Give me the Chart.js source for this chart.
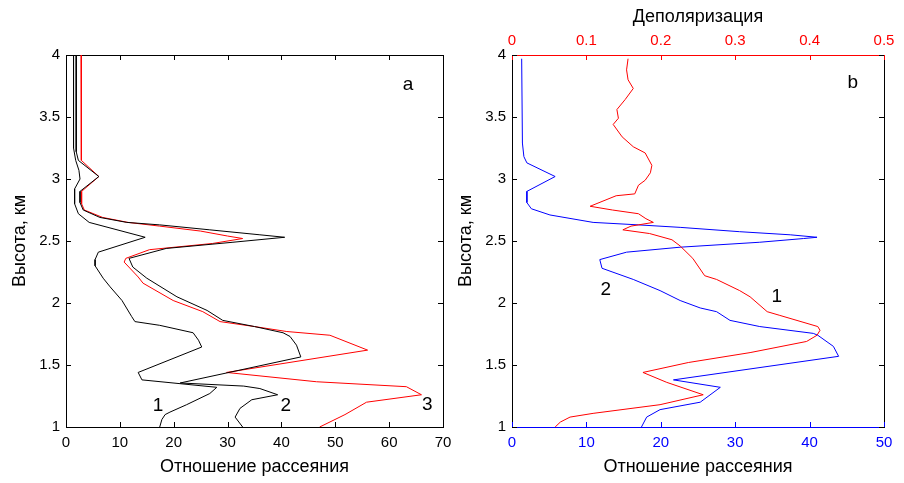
<!DOCTYPE html>
<html>
<head>
<meta charset="utf-8">
<script src="https://cdn.jsdelivr.net/npm/chart.js@4"></script>
<style>
html, body { margin: 0; padding: 0; background: #fff; }
#wrap { position: relative; width: 904px; height: 483px; }
canvas { position: absolute; top: 0; }
</style>
</head>
<body>
<div id="wrap">
  <canvas id="chartA" width="452" height="483" style="left:0"></canvas>
  <canvas id="chartB" width="452" height="483" style="left:452px"></canvas>
</div>
<script>
// ---- panel a: scattering ratio profiles (1, 2 black, 3 red)
const heightA1 = [4.0, 3.25, 3.15, 3.07, 3.0, 2.92, 2.8, 2.72, 2.65, 2.53, 2.41, 2.35, 2.3, 2.2, 2.13, 2.02, 1.89, 1.85, 1.82, 1.76, 1.7, 1.645, 1.44, 1.38, 1.32, 1.27, 1.18, 1.12, 1.1, 1.06, 1.0];
const ratioA1  = [1.4, 1.4, 1.8, 2.4, 2.6, 1.6, 1.6, 2.3, 4.3, 14.7, 6.0, 5.4, 5.4, 6.9, 8.2, 10.4, 12.2, 12.8, 17.4, 23.6, 24.6, 25.2, 13.4, 14.1, 28, 26.7, 22.4, 19.3, 18.4, 17.8, 17.4];

const heightA2 = [4.0, 3.22, 3.15, 3.02, 2.9, 2.81, 2.75, 2.69, 2.65, 2.63, 2.59, 2.55, 2.53, 2.49, 2.44, 2.36, 2.29, 2.2, 2.05, 1.94, 1.86, 1.81, 1.76, 1.73, 1.66, 1.565, 1.355, 1.33, 1.31, 1.26, 1.22, 1.15, 1.08, 1.0];
const ratioA2  = [1.9, 1.9, 2.3, 6.1, 2.6, 2.6, 3.2, 6.3, 11.3, 17.4, 26.7, 36, 40.6, 31, 18.6, 11.7, 12.4, 15, 20.6, 26.2, 29.1, 35, 40.3, 41.6, 42.8, 43.6, 21.2, 33, 36, 39.3, 34.5, 32.3, 31.4, 32.8];

const heightA3 = [4.0, 3.25, 3.15, 3.02, 2.9, 2.8, 2.75, 2.69, 2.65, 2.62, 2.58, 2.54, 2.52, 2.48, 2.43, 2.36, 2.33, 2.21, 2.16, 2.02, 1.93, 1.85, 1.81, 1.77, 1.74, 1.62, 1.44, 1.365, 1.325, 1.26, 1.2, 1.1, 1.0];
const ratioA3  = [2.8, 2.8, 2.9, 6.1, 2.9, 2.9, 3.4, 6.8, 11.5, 17.4, 25, 30, 32.8, 27.2, 15.5, 11.1, 10.8, 13.4, 14.3, 19.9, 25.4, 28.6, 35, 41, 49, 56, 29.8, 46.5, 63.2, 66, 55.8, 51.8, 47.1];

// ---- panel b: depolarization (1, red, top axis) and scattering ratio (2, blue)
const heightB1 = [3.97, 3.88, 3.8, 3.73, 3.64, 3.56, 3.49, 3.44, 3.34, 3.26, 3.21, 3.11, 3.05, 2.99, 2.95, 2.88, 2.865, 2.78, 2.75, 2.72, 2.68, 2.65, 2.62, 2.59, 2.56, 2.51, 2.46, 2.36, 2.22, 2.19, 2.1, 2.05, 1.93, 1.9, 1.81, 1.78, 1.74, 1.69, 1.6, 1.52, 1.44, 1.36, 1.26, 1.18, 1.11, 1.08, 1.04, 1.0];
const depolB1  = [0.156, 0.154, 0.156, 0.163, 0.152, 0.141, 0.143, 0.136, 0.148, 0.163, 0.179, 0.188, 0.186, 0.179, 0.17, 0.165, 0.14, 0.105, 0.135, 0.17, 0.18, 0.19, 0.16, 0.149, 0.185, 0.215, 0.226, 0.243, 0.259, 0.275, 0.306, 0.32, 0.343, 0.36, 0.411, 0.414, 0.41, 0.396, 0.32, 0.237, 0.176, 0.208, 0.257, 0.199, 0.109, 0.078, 0.065, 0.058];

const heightB2 = [3.97, 3.29, 3.18, 3.13, 3.02, 2.9, 2.81, 2.76, 2.71, 2.65, 2.63, 2.61, 2.575, 2.55, 2.53, 2.52, 2.49, 2.45, 2.41, 2.35, 2.28, 2.19, 2.1, 2.02, 1.96, 1.93, 1.86, 1.81, 1.755, 1.74, 1.65, 1.57, 1.38, 1.32, 1.2, 1.14, 1.08, 1.0];
const ratioB2  = [1.3, 1.4, 1.6, 2.0, 5.8, 2.0, 2.0, 2.6, 5.1, 10.9, 17, 22.6, 30.6, 37.4, 41, 39.2, 33.3, 22.6, 15.4, 11.8, 12.1, 16.3, 19.9, 22.6, 25.3, 27.5, 29.3, 33.3, 40.5, 41.1, 43.2, 43.9, 21.7, 28, 25.3, 19.9, 18.1, 17.4];

// ---- ticks
const heightTicks = [1, 1.5, 2, 2.5, 3, 3.5, 4];
const ratioTicksA = [0, 10, 20, 30, 40, 50, 60, 70];
const ratioTicksB = [0, 10, 20, 30, 40, 50];
const depolTicks  = [0, 0.1, 0.2, 0.3, 0.4, 0.5];

const FONT = "'Liberation Sans', Arial, sans-serif";
Chart.defaults.font.family = FONT;
Chart.defaults.font.size = 15;
Chart.defaults.color = '#000';

// MATLAB-like ticks pointing into the plot
const innerTicks = {
  id: 'innerTicks',
  afterDatasetsDraw(chart) {
    const {ctx, chartArea: a} = chart;
    ctx.save();
    ctx.lineWidth = 1;
    Object.values(chart.scales).forEach(s => {
      ctx.strokeStyle = s.options.border.color;
      s.ticks.forEach(t => {
        const p = Math.round(s.getPixelForValue(t.value)) + 0.5;
        ctx.beginPath();
        if (s.position === 'bottom') { ctx.moveTo(p, a.bottom); ctx.lineTo(p, a.bottom - 5); }
        if (s.position === 'top')    { ctx.moveTo(p, a.top);    ctx.lineTo(p, a.top + 5); }
        if (s.position === 'left')   { ctx.moveTo(a.left, p);   ctx.lineTo(a.left + 5, p); }
        if (s.position === 'right')  { ctx.moveTo(a.right, p);  ctx.lineTo(a.right - 5, p); }
        ctx.stroke();
      });
    });
    ctx.restore();
  }
};

// text notes placed in data coordinates
const notes = {
  id: 'notes',
  afterDatasetsDraw(chart, args, opts) {
    const {ctx} = chart;
    ctx.save();
    ctx.font = '19px ' + FONT;
    ctx.fillStyle = '#000';
    ctx.textAlign = 'center';
    ctx.textBaseline = 'middle';
    opts.items.forEach(n => {
      ctx.fillText(n.text, chart.scales.x.getPixelForValue(n.x), chart.scales.y.getPixelForValue(n.y));
    });
    ctx.restore();
  }
};

function profile(h, v, color, xAxisID) {
  return {
    data: h.map((y, i) => ({x: v[i], y: y})),
    xAxisID: xAxisID || 'x',
    borderColor: color,
    borderWidth: 1,
    pointRadius: 0,
    showLine: true,
    tension: 0
  };
}

function setTicks(list) {
  return s => { s.ticks = list.map(v => ({value: v})); };
}

function axis(opts) {
  const o = {
    type: 'linear',
    position: opts.position,
    min: opts.min,
    max: opts.max,
    grid: {display: false, drawTicks: false, tickLength: 0},
    border: {display: true, color: opts.color || '#000', width: 1},
    ticks: {
      display: !!opts.showLabels,
      color: opts.color || '#000',
      padding: opts.pad || 5,
      maxRotation: 0,
      callback: v => String(v)
    },
    afterBuildTicks: setTicks(opts.ticks),
    afterFit: s => {
      if (s.isHorizontal()) s.height = opts.size; else s.width = opts.size;
      s.paddingLeft = s.paddingRight = s.paddingTop = s.paddingBottom = 0;
    }
  };
  if (opts.title) {
    o.title = {display: true, text: opts.title, color: '#000', font: {size: 18}, padding: opts.titlePad};
  }
  return o;
}

const baseOptions = {
  responsive: false,
  animation: false,
  events: [],
  layout: {padding: 0},
  plugins: {legend: {display: false}, tooltip: {enabled: false}}
};

new Chart(document.getElementById('chartA'), {
  type: 'scatter',
  data: {
    datasets: [
      profile(heightA1, ratioA1, '#000'),
      profile(heightA2, ratioA2, '#000'),
      profile(heightA3, ratioA3, '#ff0000')
    ]
  },
  options: Object.assign({}, baseOptions, {
    scales: {
      x: axis({position: 'bottom', min: 0, max: 70, ticks: ratioTicksA, showLabels: true, size: 56, pad: 7,
               title: 'Отношение рассеяния', titlePad: {bottom: 5}}),
      xTop: axis({position: 'top', min: 0, max: 70, ticks: ratioTicksA, size: 55}),
      y: axis({position: 'left', min: 1, max: 4, ticks: heightTicks, showLabels: true, size: 66, pad: 6,
               title: 'Высота, км', titlePad: {top: 9}}),
      yRight: axis({position: 'right', min: 1, max: 4, ticks: heightTicks, size: 9})
    },
    plugins: Object.assign({}, baseOptions.plugins, {
      notes: {items: [
        {text: '1', x: 17.1, y: 1.17},
        {text: '2', x: 40.8, y: 1.17},
        {text: '3', x: 67.1, y: 1.18},
        {text: 'a', x: 63.5, y: 3.76}
      ]}
    })
  }),
  plugins: [innerTicks, notes]
});

new Chart(document.getElementById('chartB'), {
  type: 'scatter',
  data: {
    datasets: [
      profile(heightB1, depolB1, '#ff0000', 'xTop'),
      profile(heightB2, ratioB2, '#0000ff')
    ]
  },
  options: Object.assign({}, baseOptions, {
    scales: {
      x: axis({position: 'bottom', min: 0, max: 50, ticks: ratioTicksB, showLabels: true, size: 56, pad: 7, color: '#0000ff',
               title: 'Отношение рассеяния', titlePad: {bottom: 5}}),
      xTop: axis({position: 'top', min: 0, max: 0.5, ticks: depolTicks, showLabels: true, size: 55, pad: 5, color: '#ff0000',
                  title: 'Деполяризация', titlePad: {top: 6}}),
      y: axis({position: 'left', min: 1, max: 4, ticks: heightTicks, showLabels: true, size: 60, pad: 6,
               title: 'Высота, км', titlePad: {top: 3}}),
      yRight: axis({position: 'right', min: 1, max: 4, ticks: heightTicks, size: 20})
    },
    plugins: Object.assign({}, baseOptions.plugins, {
      notes: {items: [
        {text: 'b', x: 45.8, y: 3.78},
        {text: '1', x: 35.6, y: 2.05},
        {text: '2', x: 12.6, y: 2.11}
      ]}
    })
  }),
  plugins: [innerTicks, notes]
});
</script>
</body>
</html>
